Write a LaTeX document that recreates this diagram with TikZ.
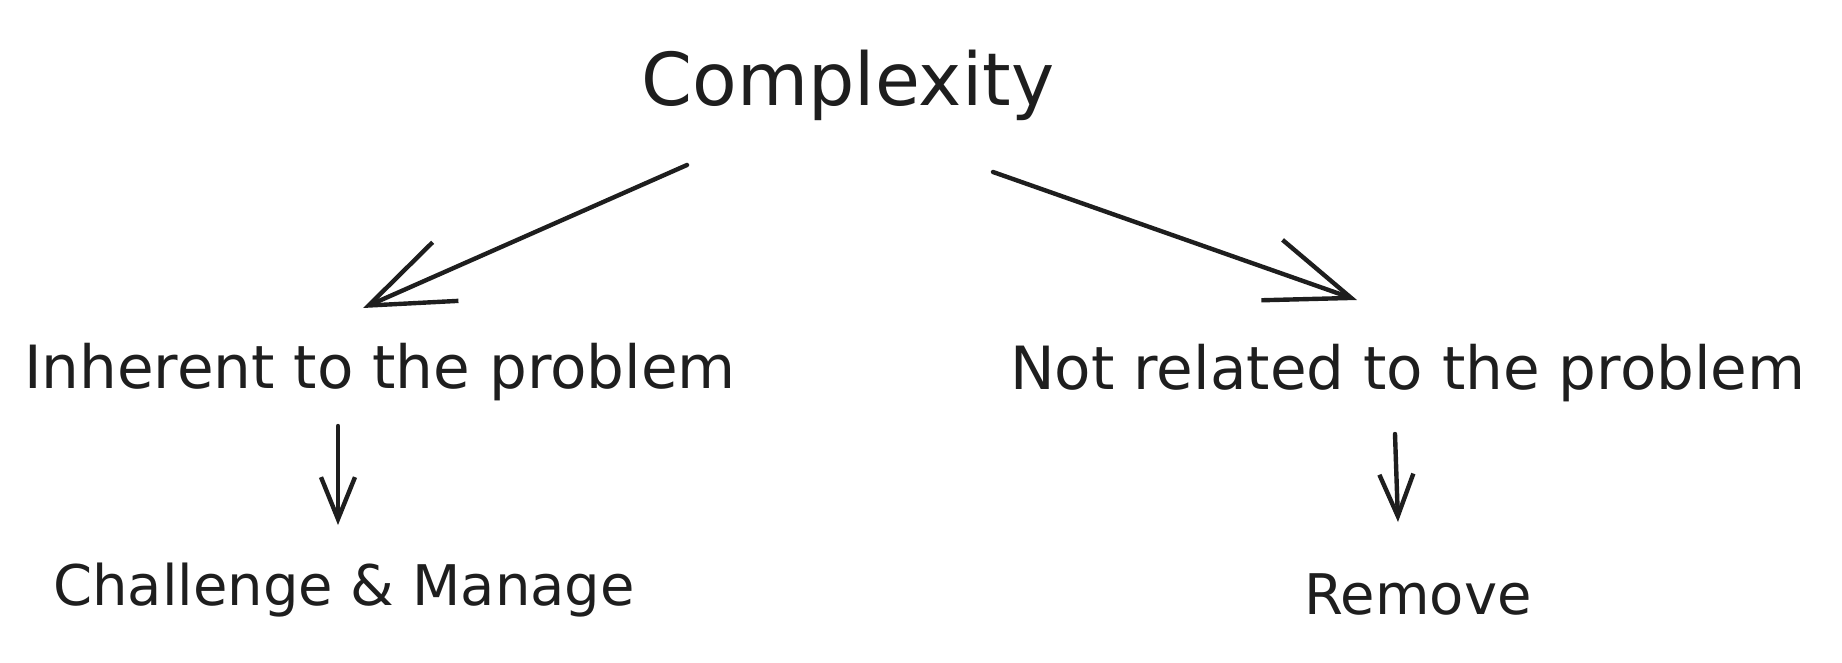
\documentclass[tikz,border=0pt]{standalone}
\usepackage{fontspec}
\setmainfont{DejaVu Sans}
\usetikzlibrary{arrows.meta, positioning}
\definecolor{ink}{HTML}{1E1E1E}

\tikzset{
  headline/.style={inner sep=0pt, anchor=base, text=ink, font=\fontsize{36.5}{40}\selectfont},
  branch/.style={inner sep=0pt, anchor=base, text=ink, font=\fontsize{29.8}{34}\selectfont},
  result/.style={inner sep=0pt, anchor=base, text=ink, font=\fontsize{28}{33}\selectfont},
  bigarrow/.style={draw=ink, line width=2.2pt, line cap=round,
    -{Straight Barb[length=42pt, width=32pt, line width=2.2pt]}},
  smallarrow/.style={draw=ink, line width=2.2pt, line cap=round,
    -{Straight Barb[length=21pt, width=17pt, line width=2.2pt]}}
}

\begin{document}
\begin{tikzpicture}[x=0.5pt, y=-0.5pt]
  \useasboundingbox (0,0) rectangle (1842,663);

  % Texts
  \node[headline] (cplx) at (848,106) {Complexity};
  \node[branch] (inherent) at (380,388) {Inherent to the problem};
  \node[branch] (unrelated) at (1408,389) {Not related to the problem};
  \node[result] (manage) at (344,605) {Challenge \& Manage};
  \node[result] (remove) at (1418,614) {Remove};

  % Arrow ends
  \coordinate (cplx-l) at (687,165);
  \coordinate (inherent-t) at (363,308);
  \coordinate (cplx-r) at (993,172);
  \coordinate (unrelated-t) at (1357,300);
  \coordinate (inherent-b) at (338,426);
  \coordinate (manage-t) at (338,525);
  \coordinate (unrelated-b) at (1395,434);
  \coordinate (remove-t) at (1398,522);

  % Arrows
  \draw[bigarrow] (cplx-l) -- (inherent-t);
  \draw[bigarrow] (cplx-r) -- (unrelated-t);
  \draw[smallarrow] (inherent-b) -- (manage-t);
  \draw[smallarrow] (unrelated-b) -- (remove-t);
\end{tikzpicture}
\end{document}
